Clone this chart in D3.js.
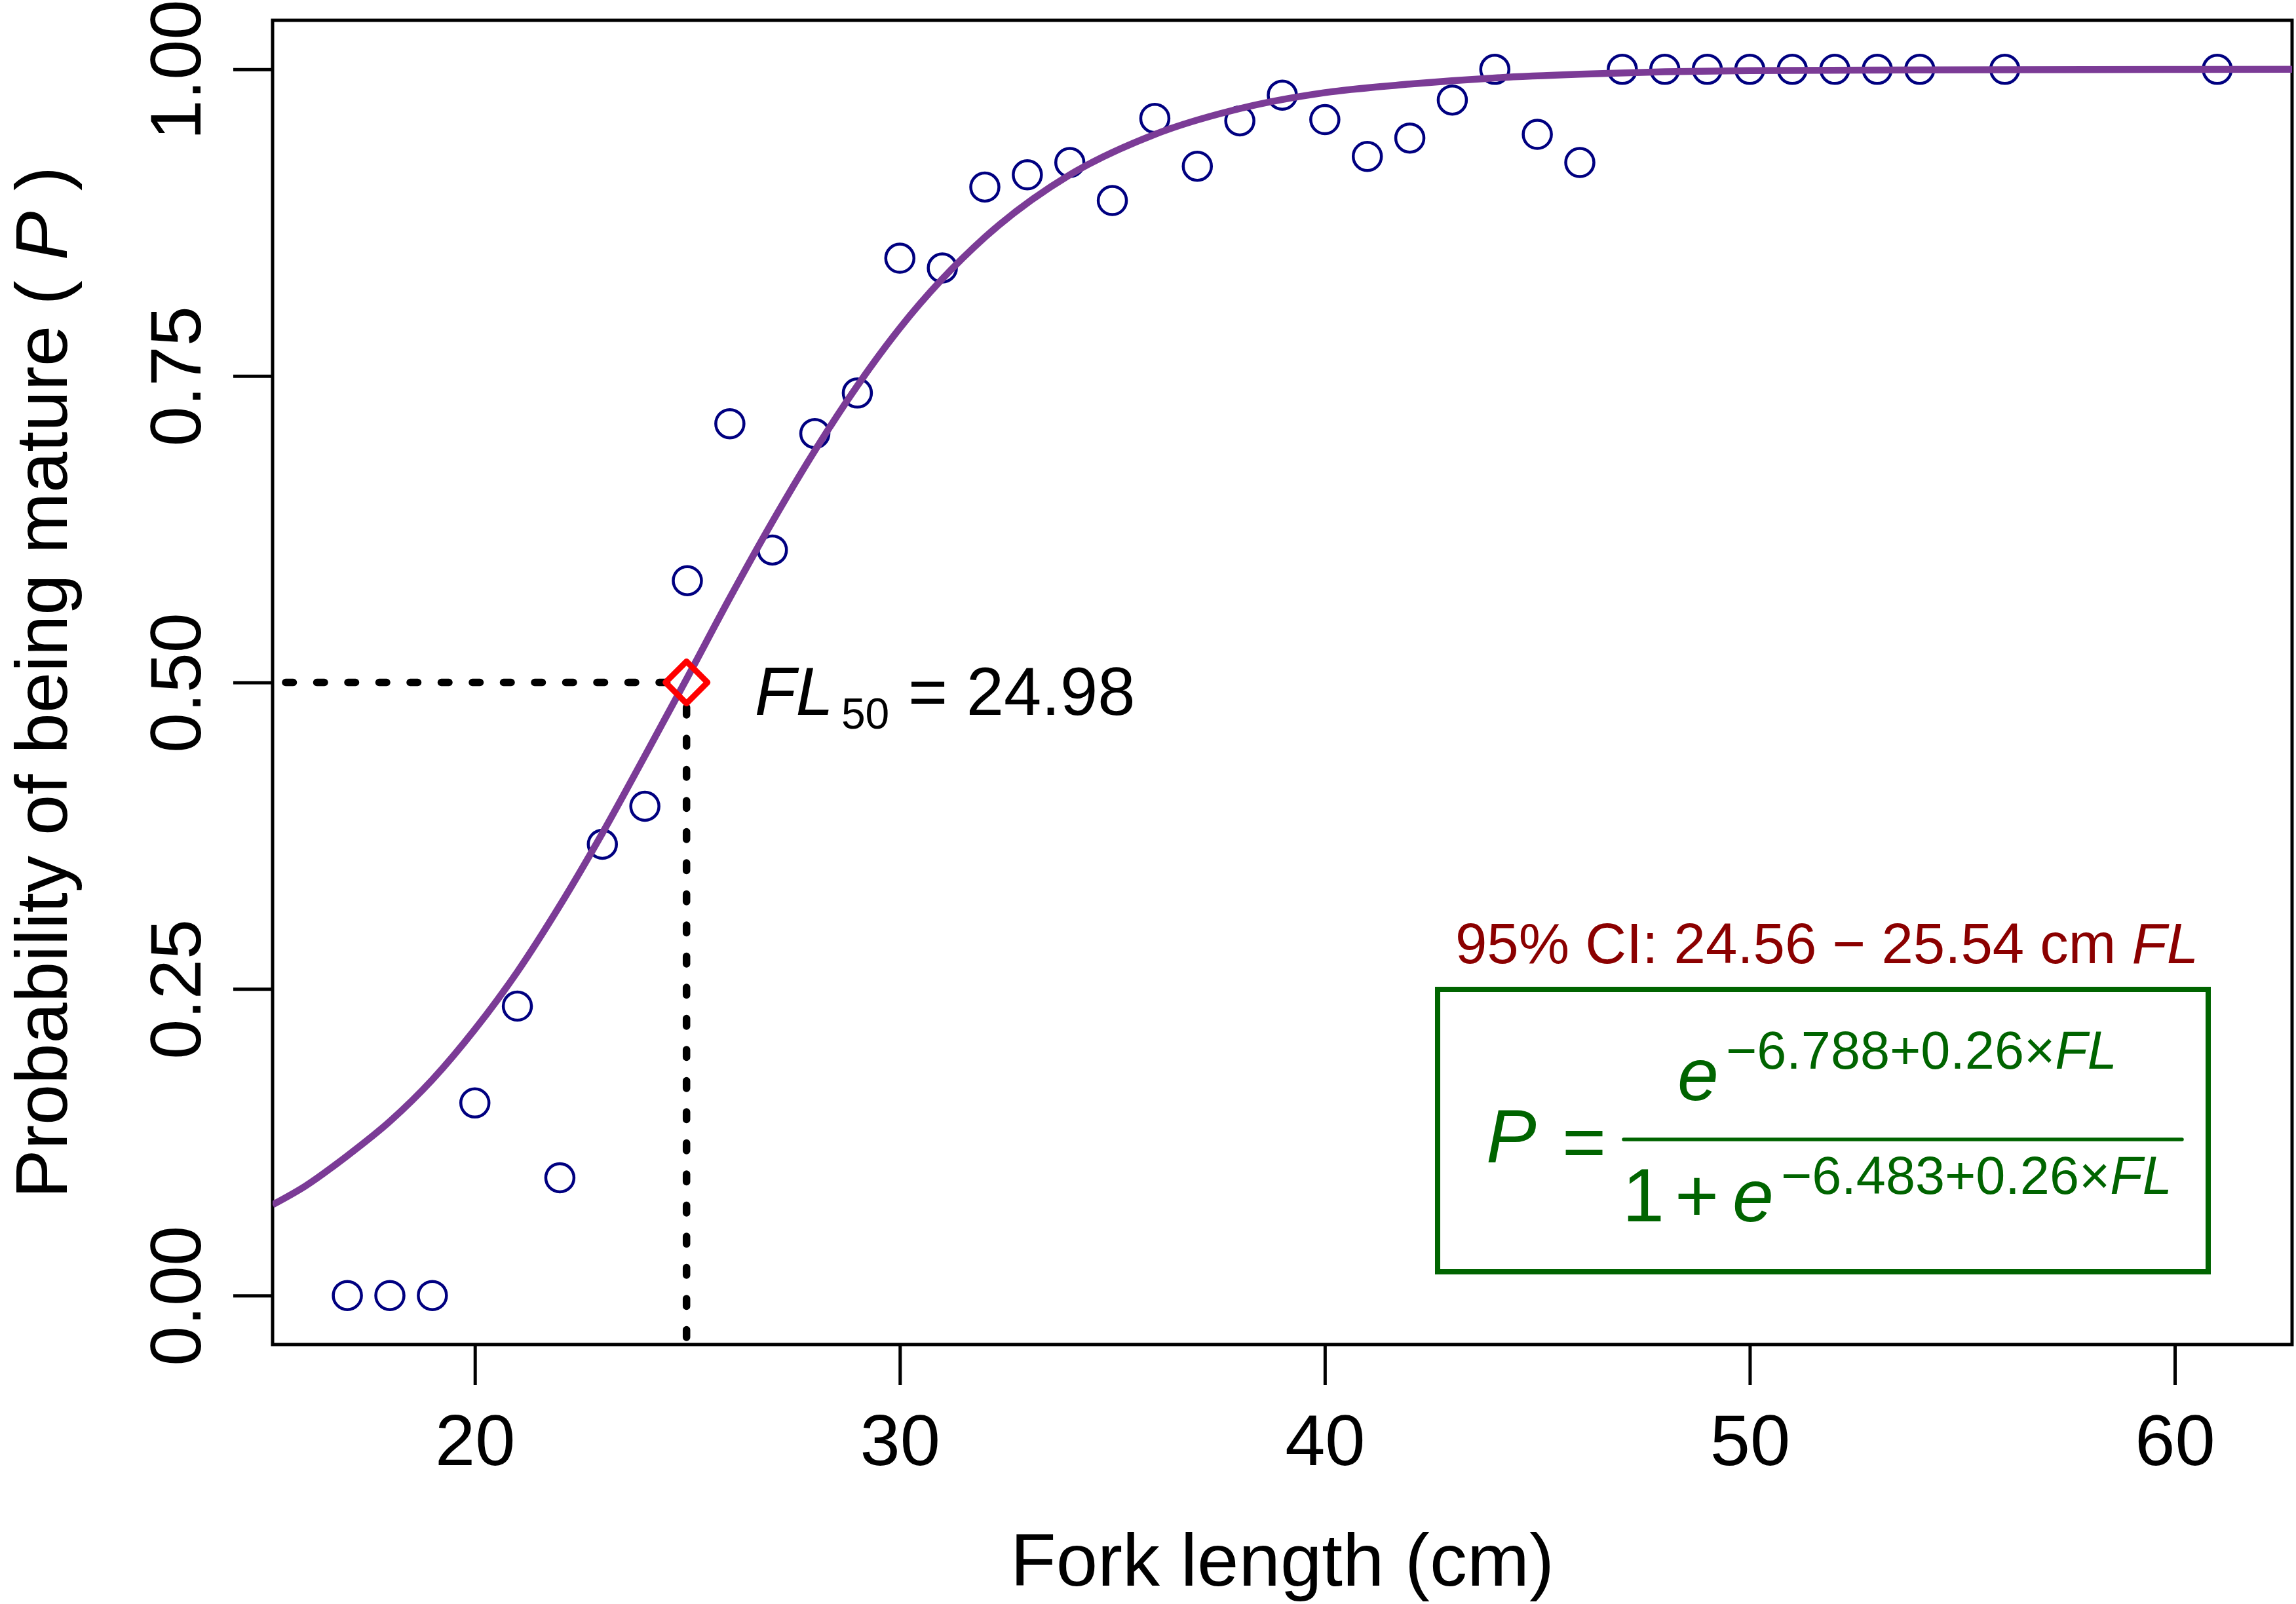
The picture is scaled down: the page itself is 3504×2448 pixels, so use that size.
<!DOCTYPE html>
<html>
<head>
<meta charset="utf-8">
<style>
body { margin: 0; background: #fff; }
svg { display: block; font-family: "Liberation Sans", Arial, sans-serif; }
</style>
</head>
<body>
<svg width="3504" height="2448" style="background-color: #FFFFFF;"></svg>

<script src="https://cdn.jsdelivr.net/npm/d3@7"></script>
<script>

// observed proportion mature by fork length (cm)
var forkLength = [17, 18, 19, 20, 21, 22, 23, 24, 25, 26, 27, 28, 29, 30, 31, 32, 33, 34, 35, 36,
                  37, 38, 39, 40, 41, 42, 43, 44, 45, 46, 47, 48, 49, 50, 51, 52, 53, 54, 56, 61];
var propMature = [0, 0, 0, 0.157, 0.236, 0.096, 0.368, 0.399, 0.583, 0.711, 0.608, 0.703, 0.736, 0.846, 0.838, 0.904, 0.914, 0.924, 0.893, 0.960,
                  0.921, 0.958, 0.979, 0.959, 0.929, 0.944, 0.975, 1, 0.947, 0.924, 1, 1, 1, 1, 1, 1, 1, 1, 1, 1];

// fitted logistic curve
var curveFL = [15.24, 16, 17, 18, 19, 20, 21, 22, 23, 24, 25, 26, 27, 28, 29, 30, 32, 34, 36, 38, 40, 42, 44, 46, 48, 50, 54, 58, 62.76];
var curveP  = [0.074, 0.089, 0.114, 0.142, 0.176, 0.217, 0.264, 0.318, 0.377, 0.440, 0.504, 0.569, 0.631, 0.689, 0.742, 0.789,
               0.863, 0.914, 0.947, 0.968, 0.981, 0.988, 0.993, 0.996, 0.998, 0.999, 0.9995, 0.9998, 1.0];

var xTicks = [20, 30, 40, 50, 60];
var yTicks = [0, 0.25, 0.5, 0.75, 1];

var fl50 = 24.98, p50 = 0.5;
var ciLow = "24.56", ciHigh = "25.54";
var numExp = "\u22126.788+0.26\u00d7", denExp = "\u22126.483+0.26\u00d7";

var svg = d3.select("svg"),
    margin = {top: 31, right: 6, bottom: 396, left: 416},
    width = +svg.attr("width") - margin.left - margin.right,
    height = +svg.attr("height") - margin.top - margin.bottom,
    g = svg.append("g").attr("transform", "translate(" + margin.left + "," + margin.top + ")");

// R style: data range padded by 4%
var x = d3.scaleLinear().domain([15.24, 62.76]).range([0, width]);
var y = d3.scaleLinear().domain([-0.04, 1.04]).range([height, 0]);

g.append("clipPath").attr("id", "plotclip")
  .append("rect").attr("width", width).attr("height", height);

// axes
var xAxis = g.append("g")
    .attr("transform", "translate(0," + height + ")")
    .call(d3.axisBottom(x).tickValues(xTicks).tickSize(62).tickPadding(44).tickFormat(d3.format("d")));
xAxis.select(".domain").remove();
xAxis.attr("font-size", 110).attr("font-family", null);
xAxis.selectAll("line").attr("stroke", "#000").attr("stroke-width", 5);
xAxis.selectAll("text").attr("fill", "#000");

var yAxis = g.append("g")
    .call(d3.axisLeft(y).tickValues(yTicks).tickSize(60).tickFormat(d3.format(".2f")));
yAxis.select(".domain").remove();
yAxis.attr("font-size", 110).attr("font-family", null);
yAxis.selectAll("line").attr("stroke", "#000").attr("stroke-width", 5);
yAxis.selectAll("text")
    .attr("fill", "#000")
    .attr("x", 0)
    .attr("dy", 0)
    .attr("text-anchor", "middle")
    .attr("transform", "translate(-110,0) rotate(-90)");

// plot frame
g.append("rect")
    .attr("width", width)
    .attr("height", height)
    .attr("fill", "none")
    .attr("stroke", "#000")
    .attr("stroke-width", 5);

// axis titles
svg.append("text")
    .attr("x", margin.left + width / 2)
    .attr("y", 2420)
    .attr("text-anchor", "middle")
    .attr("font-size", 114)
    .text("Fork length (cm)");

var yTitle = svg.append("text")
    .attr("transform", "translate(102," + (margin.top + height / 2) + ") rotate(-90)")
    .attr("text-anchor", "middle")
    .attr("font-size", 112)
    .attr("xml:space", "preserve");
yTitle.append("tspan").text("Probability of being mature ( ");
yTitle.append("tspan").attr("font-style", "italic").text("P");
yTitle.append("tspan").text(" )");

var plot = g.append("g").attr("clip-path", "url(#plotclip)");

// observed points
plot.append("g")
  .selectAll("circle")
  .data(forkLength)
  .enter().append("circle")
    .attr("cx", function(d) { return x(d); })
    .attr("cy", function(d, i) { return y(propMature[i]); })
    .attr("r", 21.5)
    .attr("fill", "none")
    .attr("stroke", "#000080")
    .attr("stroke-width", 4.5);

// logistic fit
var line = d3.line()
    .x(function(d) { return x(d); })
    .y(function(d, i) { return y(curveP[i]); })
    .curve(d3.curveMonotoneX);

plot.append("path")
    .attr("d", line(curveFL))
    .attr("fill", "none")
    .attr("stroke", "#7B3B96")
    .attr("stroke-width", 10.5);

// FL50 guide lines (short round dashes)
plot.append("path")
    .attr("d", "M" + x(15.24) + "," + y(p50) + "H" + x(fl50))
    .attr("fill", "none")
    .attr("stroke", "#000")
    .attr("stroke-width", 11.5)
    .attr("stroke-linecap", "round")
    .attr("stroke-dasharray", "11.5,36")
    .attr("stroke-dashoffset", -20);

plot.append("path")
    .attr("d", "M" + x(fl50) + "," + (y(p50) + 38) + "V" + y(-0.04))
    .attr("fill", "none")
    .attr("stroke", "#000")
    .attr("stroke-width", 11.5)
    .attr("stroke-linecap", "round")
    .attr("stroke-dasharray", "11.5,36");

g.append("path")
    .attr("d", d3.symbol(d3.symbolSquare, 2048)())
    .attr("transform", "translate(" + x(fl50) + "," + y(p50) + ") rotate(45)")
    .attr("fill", "none")
    .attr("stroke", "#FF0000")
    .attr("stroke-width", 9)
    .attr("stroke-linejoin", "round");

var flLab = g.append("text")
    .attr("x", x(fl50) + 104)
    .attr("y", y(p50) + 49)
    .attr("font-size", 103)
    .attr("xml:space", "preserve");
flLab.append("tspan").attr("font-style", "italic").text("FL");
flLab.append("tspan").attr("dx", 12).attr("dy", 21).attr("font-size", 66).text("50");
flLab.append("tspan").attr("dy", -21).text(" = " + fl50.toFixed(2));

// confidence interval and model equation
var ci = svg.append("text")
    .attr("x", 2788)
    .attr("y", 1470)
    .attr("text-anchor", "middle")
    .attr("font-size", 87)
    .attr("fill", "#8B0000")
    .attr("xml:space", "preserve");
ci.append("tspan").text("95% CI: " + ciLow + " \u2212 " + ciHigh + " cm ");
ci.append("tspan").attr("font-style", "italic").text("FL");

var eq = svg.append("g").attr("fill", "#006400");

eq.append("rect")
    .attr("x", 2194).attr("y", 1510)
    .attr("width", 1176).attr("height", 431)
    .attr("fill", "none")
    .attr("stroke", "#006400")
    .attr("stroke-width", 8);

eq.append("text").attr("x", 2268).attr("y", 1774)
    .attr("font-size", 115).attr("font-style", "italic").text("P");
eq.append("text").attr("x", 2384).attr("y", 1782)
    .attr("font-size", 115).text("=");

eq.append("line")
    .attr("x1", 2478).attr("x2", 3330)
    .attr("y1", 1739).attr("y2", 1739)
    .attr("stroke", "#006400")
    .attr("stroke-width", 5.5)
    .attr("stroke-linecap", "round");

// numerator
eq.append("text").attr("x", 2560).attr("y", 1679)
    .attr("font-size", 113).attr("font-style", "italic").text("e");
var ne = eq.append("text").attr("x", 2634).attr("y", 1631).attr("font-size", 81);
ne.append("tspan").text(numExp);
ne.append("tspan").attr("font-style", "italic").text("FL");

// denominator
eq.append("text").attr("x", 2476).attr("y", 1864)
    .attr("font-size", 115).text("1");
eq.append("text").attr("x", 2556).attr("y", 1864)
    .attr("font-size", 115).text("+");
eq.append("text").attr("x", 2644).attr("y", 1864)
    .attr("font-size", 113).attr("font-style", "italic").text("e");
var de = eq.append("text").attr("x", 2718).attr("y", 1822).attr("font-size", 81);
de.append("tspan").text(denExp);
de.append("tspan").attr("font-style", "italic").text("FL");

</script>
</body>
</html>
